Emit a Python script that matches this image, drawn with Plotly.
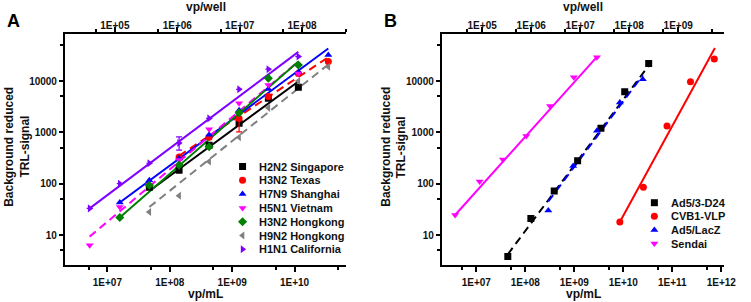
import plotly.graph_objects as go

# ---------------- Panel A data (vp/mL vs background reduced TRL-signal) ----------------
A_names = ["H2N2 Singapore", "H3N2 Texas", "H7N9 Shanghai", "H5N1 Vietnam",
           "H3N2 Hongkong", "H9N2 Hongkong", "H1N1 California"]
A_colors = ["#000000", "#ff0000", "#0000ff", "#ff00ff", "#008000", "#808080", "#8000ff"]
A_symbols = ["square", "circle", "triangle-up", "triangle-down", "diamond",
             "triangle-left", "triangle-right"]
A_dash = ["solid", "8px,5px", "solid", "8px,5px", "solid", "8px,5px", "solid"]

h2n2_x = [4.7e7, 1.41e8, 4.27e8, 1.29e9, 3.8e9, 1.15e10]
h2n2_y = [85, 185, 560, 1500, 4600, 7600]
h2n2_err_up = [0, 25, 0, 0, 0, 0]
h2n2_err_dn = [0, 22, 0, 0, 0, 0]
h2n2_fit_x = [4.7e7, 1.15e10]
h2n2_fit_y = [72, 9800]

h3n2t_x = [1.41e8, 4.27e8, 1.29e9, 3.8e9, 1.15e10, 3.47e10]
h3n2t_y = [330, 800, 1870, 5000, 14000, 24000]
h3n2t_err_up = [0, 0, 0, 0, 0, 0]
h3n2t_err_dn = [0, 0, 850, 0, 0, 0]
h3n2t_fit_x = [1.41e8, 3.47e10]
h3n2t_fit_y = [350, 29000]

h7n9_x = [1.58e7, 4.7e7, 1.41e8, 4.27e8, 1.29e9, 3.8e9, 1.15e10, 3.47e10]
h7n9_y = [43, 117, 310, 900, 2700, 7000, 15000, 32000]
h7n9_fit_x = [1.58e7, 3.47e10]
h7n9_fit_y = [43, 43000]

h5n1_x = [5.2e6, 1.58e7, 4.7e7, 1.41e8, 4.27e8, 1.29e9, 3.8e9, 1.15e10]
h5n1_y = [6.3, 35, 95, 290, 1150, 3700, 8400, 14000]
h5n1_fit_x = [5.2e6, 1.15e10]
h5n1_fit_y = [9.3, 24000]

h3n2h_x = [1.58e7, 4.7e7, 1.41e8, 4.27e8, 1.29e9, 3.8e9, 1.15e10]
h3n2h_y = [22, 93, 230, 525, 2400, 11300, 20500]
h3n2h_fit_x = [1.58e7, 1.15e10]
h3n2h_fit_y = [22, 24000]

h9n2_x = [4.7e7, 1.41e8, 4.27e8, 1.29e9, 3.8e9, 1.15e10, 3.47e10]
h9n2_y = [28, 58, 270, 800, 3000, 10000, 19000]
h9n2_fit_x = [4.7e7, 3.47e10]
h9n2_fit_y = [35, 21000]

h1n1_x = [5.2e6, 1.58e7, 4.7e7, 1.41e8, 4.27e8, 1.29e9, 3.8e9, 1.15e10]
h1n1_y = [33, 100, 250, 620, 1870, 6900, 17000, 30000]
h1n1_err_up = [0, 0, 0, 200, 0, 0, 0, 0]
h1n1_err_dn = [0, 0, 0, 170, 0, 0, 0, 0]
h1n1_fit_x = [5.2e6, 1.15e10]
h1n1_fit_y = [33, 37000]

A_x = [h2n2_x, h3n2t_x, h7n9_x, h5n1_x, h3n2h_x, h9n2_x, h1n1_x]
A_y = [h2n2_y, h3n2t_y, h7n9_y, h5n1_y, h3n2h_y, h9n2_y, h1n1_y]
A_fx = [h2n2_fit_x, h3n2t_fit_x, h7n9_fit_x, h5n1_fit_x, h3n2h_fit_x, h9n2_fit_x, h1n1_fit_x]
A_fy = [h2n2_fit_y, h3n2t_fit_y, h7n9_fit_y, h5n1_fit_y, h3n2h_fit_y, h9n2_fit_y, h1n1_fit_y]
A_eu = {0: h2n2_err_up, 1: h3n2t_err_up, 6: h1n1_err_up}
A_ed = {0: h2n2_err_dn, 1: h3n2t_err_dn, 6: h1n1_err_dn}

# ---------------- Panel B data ----------------
B_names = ["Ad5/3-D24", "CVB1-VLP", "Ad5/LacZ", "Sendai"]
B_colors = ["#000000", "#ff0000", "#0000ff", "#ff00ff"]
B_symbols = ["square", "circle", "triangle-up", "triangle-down"]
B_dash = ["8px,5px", "solid", "8px,5px", "solid"]

ad53_x = [4.4e7, 1.3e8, 3.9e8, 1.17e9, 3.5e9, 1.07e10, 3.3e10]
ad53_y = [3.8, 21, 72, 280, 1200, 6200, 22000]
ad53_fit_x = [4.4e7, 3.3e10]
ad53_fit_y = [4.2, 20000]

cvb1_x = [8.5e9, 2.57e10, 7.8e10, 2.35e11, 7.2e11]
cvb1_y = [18, 85, 1330, 9700, 27000]
cvb1_fit_x = [8.5e9, 7.4e11]
cvb1_fit_y = [18, 44000]

lacz_x = [2.95e8, 9.5e8, 2.9e9, 8.5e9, 2.5e10]
lacz_y = [30, 220, 1070, 3800, 10800]
lacz_fit_x = [2.95e8, 2.5e10]
lacz_fit_y = [45, 13000]

sendai_x = [3.7e6, 1.17e7, 3.5e7, 1.05e8, 3.2e8, 9.8e8, 2.9e9]
sendai_y = [24.5, 110, 295, 850, 3250, 11800, 29000]
sendai_fit_x = [3.7e6, 2.9e9]
sendai_fit_y = [24.5, 29500]

B_x = [ad53_x, cvb1_x, lacz_x, sendai_x]
B_y = [ad53_y, cvb1_y, lacz_y, sendai_y]
B_fx = [ad53_fit_x, cvb1_fit_x, lacz_fit_x, sendai_fit_x]
B_fy = [ad53_fit_y, cvb1_fit_y, lacz_fit_y, sendai_fit_y]

# ---------------- ticks ----------------
A_bottom_ticks = [1e7, 1e8, 1e9, 1e10]
A_bottom_minor = [5e6, 5e7, 5e8, 5e9, 5e10]
A_top_ticks = [1e5, 1e6, 1e7, 1e8]
A_top_minor = [5e4, 5e5, 5e6, 5e7, 5e8]
B_bottom_ticks = [1e7, 1e8, 1e9, 1e10, 1e11, 1e12]
B_bottom_minor = [5e6, 5e7, 5e8, 5e9, 5e10, 5e11]
B_top_ticks = [1e5, 1e6, 1e7, 1e8, 1e9]
B_top_minor = [5e4, 5e5, 5e6, 5e7, 5e8, 5e9]
Y_ticks = [10, 100, 1000, 10000]
Y_minor = [5, 50, 500, 5000, 50000]


def sci(v):
    import math
    return "1E+%02d" % int(round(math.log10(v)))


W, H = 751, 302
FONT = "Liberation Sans, Arial, sans-serif"
pxA = (66, 352)
pxB = (449, 736)
py = (34, 265)
ydom = [1 - py[1] / H, 1 - py[0] / H]

fig = go.Figure()

# fit lines + markers, panel A
for i in range(len(A_names)):
    fig.add_trace(go.Scatter(x=A_fx[i], y=A_fy[i], mode="lines", xaxis="x", yaxis="y",
                             line=dict(color=A_colors[i], width=2, dash=A_dash[i]),
                             showlegend=False, hoverinfo="skip"))
for i in range(len(A_names)):
    ey = None
    if i in A_eu:
        ey = dict(type="data", symmetric=False, array=A_eu[i], arrayminus=A_ed[i],
                  color=A_colors[i], thickness=1.2, width=3)
    fig.add_trace(go.Scatter(x=A_x[i], y=A_y[i], mode="markers", xaxis="x", yaxis="y",
                             name=A_names[i], error_y=ey,
                             marker=dict(color=A_colors[i], symbol=A_symbols[i], size=7,
                                         line=dict(width=0)),
                             showlegend=False))
# panel B
for i in range(len(B_names)):
    fig.add_trace(go.Scatter(x=B_fx[i], y=B_fy[i], mode="lines", xaxis="x2", yaxis="y2",
                             line=dict(color=B_colors[i], width=2, dash=B_dash[i]),
                             showlegend=False, hoverinfo="skip"))
for i in range(len(B_names)):
    fig.add_trace(go.Scatter(x=B_x[i], y=B_y[i], mode="markers", xaxis="x2", yaxis="y2",
                             name=B_names[i],
                             marker=dict(color=B_colors[i], symbol=B_symbols[i], size=7,
                                         line=dict(width=0)),
                             showlegend=False))

# empty traces to register top axes
fig.add_trace(go.Scatter(x=[], y=[], xaxis="x3", yaxis="y", showlegend=False))
fig.add_trace(go.Scatter(x=[], y=[], xaxis="x4", yaxis="y2", showlegend=False))

# custom legends on a hidden pixel-coordinate overlay axis
legA_x, legA_y0, legA_dy = 246.5, 166.5, 13.8
legB_x, legB_y0, legB_dy = 665, 202.7, 13.6
annotations = []
for i, n in enumerate(A_names):
    fig.add_trace(go.Scatter(x=[legA_x], y=[legA_y0 + i * legA_dy], mode="markers",
                             xaxis="x5", yaxis="y5", showlegend=False, hoverinfo="skip",
                             marker=dict(color=A_colors[i], symbol=A_symbols[i], size=7)))
    annotations.append(dict(x=(legA_x + 15) / W, y=1 - (legA_y0 + i * legA_dy) / H,
                            xref="paper", yref="paper", text=n, showarrow=False,
                            xanchor="left", yanchor="middle",
                            font=dict(family=FONT, size=11, color="#111", weight="bold")))
for i, n in enumerate(B_names):
    fig.add_trace(go.Scatter(x=[legB_x], y=[legB_y0 + i * legB_dy], mode="markers",
                             xaxis="x5", yaxis="y5", showlegend=False, hoverinfo="skip",
                             marker=dict(color=B_colors[i], symbol=B_symbols[i], size=7)))
    annotations.append(dict(x=(legB_x + 15) / W, y=1 - (legB_y0 + i * legB_dy) / H,
                            xref="paper", yref="paper", text=n, showarrow=False,
                            xanchor="left", yanchor="middle",
                            font=dict(family=FONT, size=11, color="#111", weight="bold")))

tickfont = dict(family=FONT, size=10, color="#111", weight="bold")


def xax(dom, rng, ticks, minor, side="bottom", anchor="y", overlaying=None, standoff=0):
    d = dict(domain=dom, type="log", range=rng, side=side, anchor=anchor,
             tickmode="array", tickvals=ticks, ticktext=[sci(v) for v in ticks],
             ticks="outside", ticklen=5, tickwidth=1.5, tickcolor="#000",
             showline=True, linewidth=2, linecolor="#000", showgrid=False, zeroline=False,
             tickfont=tickfont, ticklabelstandoff=standoff,
             minor=dict(tickmode="array", tickvals=minor, ticks="outside", ticklen=3,
                        tickwidth=1.5, tickcolor="#000", showgrid=False))
    if overlaying:
        d["overlaying"] = overlaying
    return d


def yax(anchor):
    return dict(domain=ydom, type="log", range=[0.416, 4.916], anchor=anchor,
                tickmode="array", tickvals=Y_ticks, ticktext=[str(v) for v in Y_ticks],
                ticks="outside", ticklen=4, tickwidth=1.5, tickcolor="#000",
                showline=True, linewidth=2, linecolor="#000", showgrid=False, zeroline=False,
                tickfont=tickfont,
                minor=dict(tickmode="array", tickvals=Y_minor, ticks="outside", ticklen=3,
                           tickwidth=1.5, tickcolor="#000", showgrid=False))


domA = [pxA[0] / W, pxA[1] / W]
domB = [pxB[0] / W, pxB[1] / W]
shift = 2.12

titlefont = dict(family=FONT, size=12, color="#111", weight="bold")
for (px, letter) in [(pxA, "A"), (pxB, "B")]:
    cx = (px[0] + px[1]) / 2
    annotations.append(dict(x=cx / W, y=1 - 7 / H, xref="paper", yref="paper", text="vp/well",
                            showarrow=False, xanchor="center", yanchor="middle", font=titlefont))
    annotations.append(dict(x=cx / W, y=1 - 294 / H, xref="paper", yref="paper", text="vp/mL",
                            showarrow=False, xanchor="center", yanchor="middle", font=titlefont))
    annotations.append(dict(x=(px[0] - 57) / W, y=1 - 147 / H, xref="paper", yref="paper",
                            text="Background reduced", textangle=-90, showarrow=False,
                            xanchor="center", yanchor="middle", font=titlefont))
    annotations.append(dict(x=(px[0] - 41) / W, y=1 - 147 / H, xref="paper", yref="paper",
                            text="TRL-signal", textangle=-90, showarrow=False,
                            xanchor="center", yanchor="middle", font=titlefont))
    annotations.append(dict(x=(px[0] - 52) / W, y=1 - 21 / H, xref="paper", yref="paper",
                            text=letter, showarrow=False, xanchor="center", yanchor="middle",
                            font=dict(family=FONT, size=18, color="#000", weight="bold")))

fig.update_layout(
    width=W, height=H, autosize=False,
    margin=dict(l=0, r=0, t=0, b=0),
    paper_bgcolor="white", plot_bgcolor="rgba(0,0,0,0)",
    showlegend=False,
    xaxis=xax(domA, [6.32, 10.83], A_bottom_ticks, A_bottom_minor, anchor="y", standoff=2),
    yaxis=yax("x"),
    xaxis2=xax(domB, [6.297, 12.06], B_bottom_ticks, B_bottom_minor, anchor="y2", standoff=2),
    yaxis2=yax("x2"),
    xaxis3=xax(domA, [6.32 - shift, 10.83 - shift], A_top_ticks, A_top_minor,
               side="top", anchor="y", overlaying="x", standoff=-6),
    xaxis4=xax(domB, [6.297 - shift, 12.06 - shift], B_top_ticks, B_top_minor,
               side="top", anchor="y2", overlaying="x2", standoff=-6),
    xaxis5=dict(domain=[0, 1], range=[0, W], visible=False, anchor="y5", fixedrange=True),
    yaxis5=dict(domain=[0, 1], range=[H, 0], visible=False, anchor="x5", fixedrange=True),
    annotations=annotations,
)

fig.write_html("out.html", config={"displayModeBar": False},
               post_script="document.body.style.margin='0';document.body.style.padding='0';"
                           "document.body.style.overflow='hidden';")
